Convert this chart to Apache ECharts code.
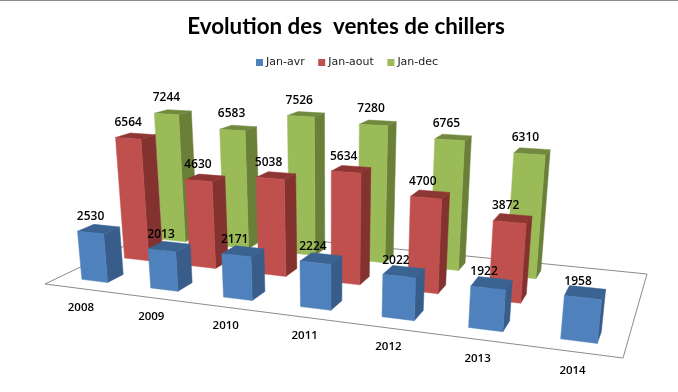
<!DOCTYPE html>
<html>
<head>
<meta charset="utf-8">
<style>
  html, body { margin: 0; padding: 0; background: #fff; }
  #chart { width: 678px; height: 392px; }
</style>
<script src="https://cdn.jsdelivr.net/npm/echarts@6/dist/echarts.min.js"></script>
</head>
<body>
<div id="chart"></div>
<script>
  const years = ['2008', '2009', '2010', '2011', '2012', '2013', '2014']
  const janAvr = [2530, 2013, 2171, 2224, 2022, 1922, 1958]
  const janAout = [6564, 4630, 5038, 5634, 4700, 3872]
  const janDec = [7244, 6583, 7526, 7280, 6765, 6310]

  // floor quad on screen: front left, front right, back right, back left
  const FLOOR = [[45, 284], [623, 358], [647, 274], [166, 226]]
  const VANISH = [330, 3000] // where the vertical edges converge
  const LIFT = 0.000142 // perspective strength per px of height
  const BAR_W = 0.38
  const BAR_D = 0.36
  const SLOT_MID = 0.515

  const homography = (function () {
    const [[x0, y0], [x1, y1], [x2, y2], [x3, y3]] = FLOOR
    const dx1 = x1 - x2, dx2 = x3 - x2, sx = x0 - x1 + x2 - x3
    const dy1 = y1 - y2, dy2 = y3 - y2, sy = y0 - y1 + y2 - y3
    const det = dx1 * dy2 - dx2 * dy1
    const g = (sx * dy2 - dx2 * sy) / det
    const h = (dx1 * sy - sx * dy1) / det
    return {
      a: x1 - x0 + g * x1, b: x3 - x0 + h * x3, c: x0,
      d: y1 - y0 + g * y1, e: y3 - y0 + h * y3, f: y0,
      g, h
    }
  })()

  // cat and row are in slot units, height in px of the hidden value axis
  function project(cat, row, height) {
    const m = homography
    const u = cat / years.length
    const v = row / 3
    const q = height * LIFT
    const w = m.g * u + m.h * v + 1 - q
    return [
      (m.a * u + m.b * v + m.c - q * VANISH[0]) / w,
      (m.d * u + m.e * v + m.f - q * VANISH[1]) / w
    ]
  }

  function face(points, color) {
    return {
      type: 'polygon',
      shape: { points },
      style: { fill: color, stroke: color, lineWidth: 0.5 }
    }
  }

  function barRenderer(row, colors) {
    return function (params, api) {
      const i = api.value(0)
      const z = api.size([0, api.value(1)])[1]
      const l = i + SLOT_MID - BAR_W / 2, r = i + SLOT_MID + BAR_W / 2
      const f = row + 0.5 - BAR_D / 2, b = row + 0.5 + BAR_D / 2
      return {
        type: 'group',
        children: [
          face([project(r, f, 0), project(r, b, 0), project(r, b, z), project(r, f, z)], colors.side),
          face([project(l, f, z), project(r, f, z), project(r, b, z), project(l, b, z)], colors.top),
          face([project(l, f, 0), project(r, f, 0), project(r, f, z), project(l, f, z)], colors.front)
        ]
      }
    }
  }

  function labelRenderer(row) {
    return function (params, api) {
      const i = api.value(0)
      const value = api.value(1)
      const z = api.size([0, value])[1]
      const p = project(i + SLOT_MID, row + 0.5 - BAR_D / 2, z)
      return {
        type: 'text',
        x: p[0] - 0.8 * i,
        y: p[1] - 16,
        style: {
          text: String(value),
          fill: '#000',
          font: '600 12px "Open Sans"',
          align: 'center',
          verticalAlign: 'middle'
        }
      }
    }
  }

  function barSeries(name, values, row, colors, z) {
    return {
      type: 'custom',
      name,
      z,
      silent: true,
      animation: false,
      itemStyle: { color: colors.front },
      data: values.map((v, i) => [years[i], v]),
      encode: { x: 0, y: 1 },
      renderItem: barRenderer(row, colors)
    }
  }

  function labelSeries(values, row) {
    return {
      type: 'custom',
      z: 10,
      silent: true,
      animation: false,
      data: values.map((v, i) => [years[i], v]),
      encode: { x: 0, y: 1 },
      renderItem: labelRenderer(row)
    }
  }

  const blue = { front: '#4F81BD', side: '#385D8A', top: '#3B6392' }
  const red = { front: '#C0504D', side: '#843230', top: '#8E3634' }
  const green = { front: '#9BBB59', side: '#6A8039', top: '#71893F' }

  const floorSeries = {
    type: 'custom',
    z: 1,
    silent: true,
    animation: false,
    data: [[years[0], 0]],
    encode: { x: 0, y: 1 },
    renderItem() {
      return {
        type: 'polygon',
        shape: { points: [project(0, 0, 0), project(7, 0, 0), project(7, 3, 0), project(0, 3, 0)] },
        style: { fill: '#fff', stroke: '#8c8c8c', lineWidth: 1 }
      }
    }
  }

  const yearSeries = {
    type: 'custom',
    z: 10,
    silent: true,
    animation: false,
    data: years.map(y => [y, 0]),
    encode: { x: 0, y: 1 },
    renderItem(params, api) {
      const i = api.value(0)
      const p = project(i + 0.5, 0, 0)
      return {
        type: 'text',
        x: p[0] + 2 - 0.4 * i,
        y: p[1] + 19,
        style: {
          text: years[params.dataIndex],
          fill: '#000',
          font: '600 11.5px "Open Sans"',
          align: 'center',
          verticalAlign: 'middle'
        }
      }
    }
  }

  const myChart = echarts.init(document.getElementById('chart'), null, { renderer: 'canvas' })
  myChart.setOption({
    backgroundColor: '#fff',
    animation: false,
    title: {
      text: 'Evolution des  ventes de chillers',
      left: 341,
      top: 11,
      textAlign: 'center',
      textStyle: { fontFamily: 'Lato', fontWeight: 'bold', fontSize: 22.4, color: '#000' }
    },
    legend: {
      left: 256,
      top: 57,
      padding: 0,
      icon: 'rect',
      itemWidth: 7,
      itemHeight: 7,
      itemGap: 13.5,
      selectedMode: false,
      data: ['Jan-avr', 'Jan-aout', 'Jan-dec'],
      textStyle: { fontFamily: 'DejaVu Sans', fontSize: 11, color: '#222', padding: [0, 0, 0, -2] }
    },
    graphic: [{
      type: 'rect',
      shape: { x: 0, y: 0, width: 678, height: 1 },
      style: { fill: '#8c8c8c' }
    }],
    grid: { left: 0, right: 0, top: 0, bottom: 0 },
    xAxis: { type: 'category', data: years, show: false },
    yAxis: { type: 'value', min: 0, max: 8000, show: false },
    series: [
      floorSeries,
      barSeries('Jan-avr', janAvr, 0, blue, 5),
      barSeries('Jan-aout', janAout, 1, red, 4),
      barSeries('Jan-dec', janDec, 2, green, 3),
      labelSeries(janAvr, 0),
      labelSeries(janAout, 1),
      labelSeries(janDec, 2),
      yearSeries
    ]
  })
</script>
</body>
</html>
